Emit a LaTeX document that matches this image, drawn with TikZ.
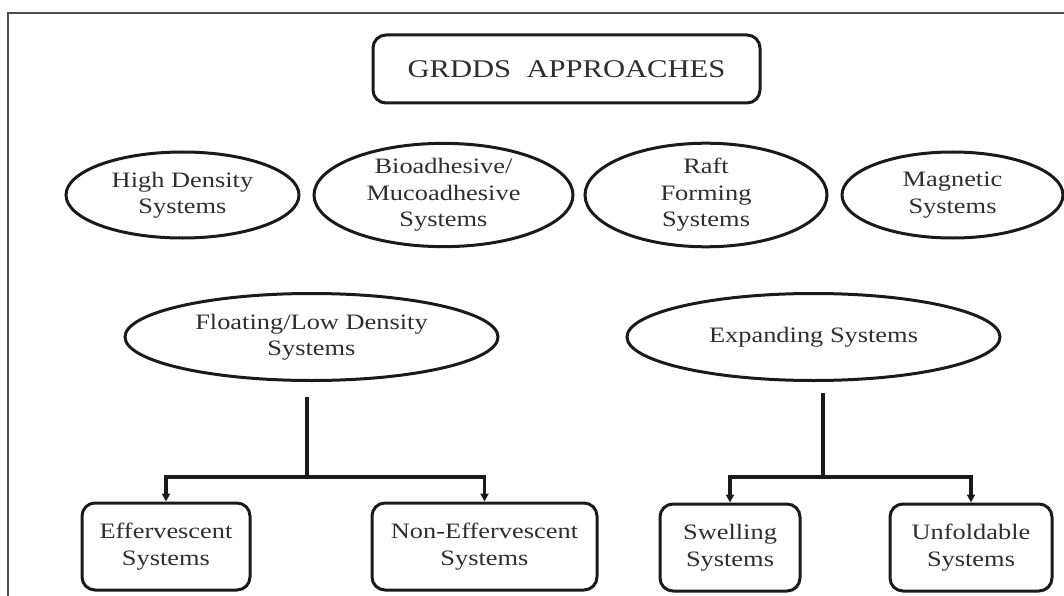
\documentclass[tikz,border=0pt]{standalone}
\usepackage{fontspec}
\setmainfont{Liberation Serif}[FakeStretch=1.2]
\usetikzlibrary{shapes.geometric,arrows.meta}
\definecolor{ink}{HTML}{1A1A1A}
\definecolor{txt}{HTML}{2E2E2E}
\tikzset{
  oval/.style={ellipse, draw=ink, line width=3pt, inner sep=0pt, align=center,
    font=\fontsize{22}{26.5}\selectfont, text=txt},
  rbox/.style={rectangle, rounded corners=13pt, draw=ink, line width=3pt, inner sep=0pt,
    align=center, font=\fontsize{22}{26.5}\selectfont, text=txt},
  conn/.style={draw=ink, line width=3.2pt},
  arr/.style={conn, -{Triangle[length=8pt,width=8pt]}},
}
\begin{document}
\begin{tikzpicture}[x=1pt,y=-1pt]
\useasboundingbox (0,0) rectangle (1064,596);
\draw[gray!60!black, line width=1.4pt] (8,600) -- (8,13) -- (1066,13);
\node[rbox, minimum width=387pt, minimum height=68pt, font=\fontsize{25.5}{30}\selectfont]
  (title) at (566.5,69) {GRDDS\ \ APPROACHES};
\node[oval, minimum width=233pt, minimum height=86pt] (hd) at (182.5,195) {High Density\\Systems};
\node[oval, minimum width=259pt, minimum height=86pt] (bio) at (443.5,195) {Bioadhesive/\\Mucoadhesive\\Systems};
\node[oval, minimum width=242pt, minimum height=86pt] (raft) at (706,195) {Raft\\Forming\\Systems};
\node[oval, minimum width=221pt, minimum height=86pt] (mag) at (952.5,195) {Magnetic\\Systems};
\node[oval, minimum width=373pt, minimum height=87pt] (float) at (311.5,337) {Floating/Low Density\\Systems};
\node[oval, minimum width=373pt, minimum height=87pt] (exp) at (813.5,337) {Expanding Systems};
\node[rbox, minimum width=168pt, minimum height=87pt] (eff) at (166,546.5) {Effervescent\\Systems};
\node[rbox, minimum width=225pt, minimum height=87pt] (neff) at (484.5,546.5) {Non-Effervescent\\Systems};
\node[rbox, minimum width=140pt, minimum height=87pt] (swell) at (730,547.5) {Swelling\\Systems};
\node[rbox, minimum width=162pt, minimum height=87pt] (unf) at (971,547.5) {Unfoldable\\Systems};
\coordinate (fa) at (307,397);
\coordinate (fb) at (307,477);
\coordinate (ea) at (823,393);
\coordinate (eb) at (823,477);
\draw[conn] (fa) -- (fb);
\draw[arr] (fb) -| (eff.north);
\draw[arr] (fb) -| (neff.north);
\draw[conn] (ea) -- (eb);
\draw[arr] (eb) -| (swell.north);
\draw[arr] (eb) -| (unf.north);
\end{tikzpicture}
\end{document}
